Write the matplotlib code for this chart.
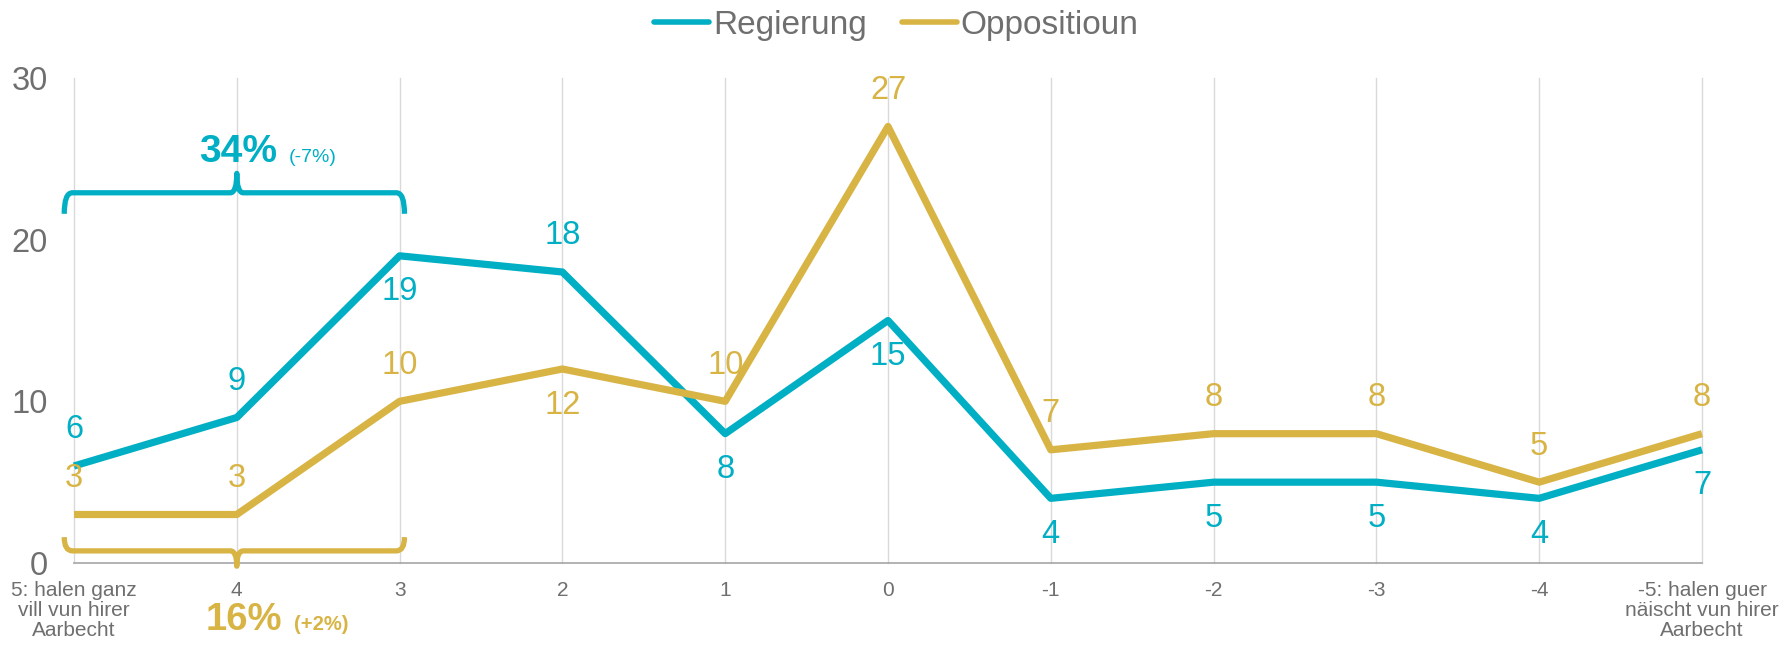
import numpy as np
import matplotlib
matplotlib.use("Agg")
import matplotlib.pyplot as plt
from matplotlib.path import Path
from matplotlib.patches import PathPatch

plt.rcParams['font.family'] = ['Liberation Sans', 'DejaVu Sans']

# data
categories = ['5: halen ganz\nvill vun hirer\nAarbecht', '4', '3', '2', '1', '0',
              '-1', '-2', '-3', '-4', '-5: halen guer\nnäischt vun hirer\nAarbecht']
regierung = [6, 9, 19, 18, 8, 15, 4, 5, 5, 4, 7]
oppositioun = [3, 3, 10, 12, 10, 27, 7, 8, 8, 5, 8]
series_names = ['Regierung', 'Oppositioun']
top3_reg = '34%'
top3_reg_diff = '(-7%)'
top3_opp = '16%'
top3_opp_diff = '(+2%)'

# label placement (+1 above, -1 below)
reg_side = [1, 1, -1, 1, -1, -1, -1, -1, -1, -1, -1]
opp_side = [1, 1, 1, -1, 1, 1, 1, 1, 1, 1, 1]

teal = '#00AFC4'
gold = '#D8B445'
grey = '#6F6F6F'

fig = plt.figure(figsize=(17.85, 6.47), dpi=100)
ax = fig.add_axes([74 / 1785, 84 / 647, 1628 / 1785, 485 / 647])

x = np.arange(len(categories))
l1, = ax.plot(x, regierung, color=teal, lw=5.2, solid_joinstyle='round',
              solid_capstyle='butt', clip_on=False, zorder=3)
l2, = ax.plot(x, oppositioun, color=gold, lw=5.2, solid_joinstyle='round',
              solid_capstyle='butt', clip_on=False, zorder=3)

for xi, v, s in zip(x, regierung, reg_side):
    ax.annotate(str(v), (xi, v), xytext=(0, 26 * s), textcoords='offset points',
                ha='center', va='center', fontsize=23.5, color=teal)
for xi, v, s in zip(x, oppositioun, opp_side):
    ax.annotate(str(v), (xi, v), xytext=(0, 26 * s), textcoords='offset points',
                ha='center', va='center', fontsize=23.5, color=gold)

ax.set_xlim(0, len(categories) - 1)
ax.set_ylim(0, 30)
ax.set_yticks([0, 10, 20, 30])
ax.set_xticks(x)
ax.set_xticklabels(categories, fontsize=15, color=grey, linespacing=1.05)
ax.tick_params(axis='y', length=0, pad=19, labelsize=23.5, labelcolor=grey)
ax.tick_params(axis='x', length=0, pad=13)
ax.grid(axis='x', color='#D9D9D9', lw=1)
for gl in ax.get_xgridlines():
    gl.set_clip_on(False)
ax.set_axisbelow(True)
for sp in ['top', 'right', 'left']:
    ax.spines[sp].set_visible(False)
ax.spines['bottom'].set_color('#A6A6A6')
ax.spines['bottom'].set_linewidth(1.2)


def brace(x0, x1, xm, y, hook, tip, color):
    verts = [(x0, y - hook), (x0, y), (x0 + 0.05, y),
             (xm - 0.04, y), (xm, y), (xm, y + tip),
             (xm, y), (xm + 0.04, y),
             (x1 - 0.05, y), (x1, y), (x1, y - hook)]
    codes = [Path.MOVETO, Path.CURVE3, Path.CURVE3,
             Path.LINETO, Path.CURVE3, Path.CURVE3,
             Path.CURVE3, Path.CURVE3,
             Path.LINETO, Path.CURVE3, Path.CURVE3]
    ax.add_patch(PathPatch(Path(verts, codes), fill=False, ec=color, lw=3.8,
                           capstyle='butt', joinstyle='round', clip_on=False, zorder=4))


brace(-0.06, 2.03, 1.0, 22.9, 1.3, 1.2, teal)
brace(-0.06, 2.03, 1.0, 0.75, -0.85, -0.95, gold)

ax.text(1.245, 24.8, top3_reg, ha='right', va='baseline', fontsize=28,
        fontweight='bold', color=teal)
ax.text(1.32, 24.8, top3_reg_diff, ha='left', va='baseline', fontsize=14,
        color=teal)
ax.text(1.28, -4.15, top3_opp, ha='right', va='baseline', fontsize=27.5,
        fontweight='bold', color=gold, clip_on=False)
ax.text(1.35, -4.15, top3_opp_diff, ha='left', va='baseline', fontsize=14.5,
        fontweight='bold', color=gold, clip_on=False)

leg = fig.legend([l1, l2], series_names, loc='center', bbox_to_anchor=(0.502, 0.961),
                 ncol=2, frameon=False, fontsize=24, handlelength=1.65,
                 handletextpad=0.12, columnspacing=1.05, labelcolor=grey)
for h in leg.get_lines():
    h.set_solid_capstyle('round')
    h.set_linewidth(4)

fig.savefig('out.png', dpi=100)
